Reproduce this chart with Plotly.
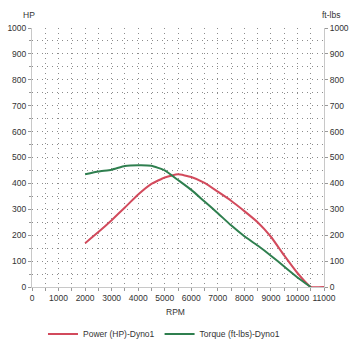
import plotly.graph_objects as go

rpm_power = [2000, 2500, 3000, 3500, 4000, 4500, 5000, 5500, 6000, 6500, 7000,
             7500, 8000, 8500, 9000, 9500, 10000, 10500, 11000]
power_hp = [169, 212, 258, 307, 357, 398, 423, 435, 425, 402, 368,
            333, 293, 250, 194, 122, 54, 0, 0]

rpm_torque = [2000, 2500, 3000, 3500, 4000, 4500, 5000, 5500, 6000, 6500, 7000,
              7500, 8000, 8500, 9000, 9500, 10000, 10500]
torque_ftlbs = [435, 446, 453, 467, 470, 468, 450, 413, 375, 330, 285,
                238, 196, 160, 121, 79, 37, 0]

x_ticks = list(range(0, 11001, 1000))
y_ticks = list(range(0, 1001, 100))

FONT = "Liberation Sans, Arial, sans-serif"
GRID = "#8c8c8c"

fig = go.Figure()
fig.add_trace(go.Scatter(x=rpm_power, y=power_hp, mode="lines",
                         name="Power (HP)-Dyno1",
                         line=dict(color="#d24a5c", width=2, shape="spline", smoothing=0.4)))
fig.add_trace(go.Scatter(x=rpm_torque, y=torque_ftlbs, mode="lines",
                         name="Torque (ft-lbs)-Dyno1", yaxis="y2",
                         line=dict(color="#2f7f4f", width=2, shape="spline", smoothing=0.4)))

axis_common = dict(
    showline=True, linecolor="#c8c8c8", linewidth=1,
    ticks="outside", ticklen=3, tickcolor="#999",
    tickfont=dict(family=FONT, size=8.5, color="#333"),
    showgrid=True, gridcolor=GRID, griddash="1px,4px", gridwidth=1,
    zeroline=False, automargin=False,
)

fig.update_layout(
    width=354, height=349,
    margin=dict(l=32, r=30, t=28, b=62),
    paper_bgcolor="white", plot_bgcolor="white",
    font=dict(family=FONT, size=8.5, color="#333"),
    xaxis=dict(range=[0, 11000], tickvals=x_ticks, ticktext=[str(v) for v in x_ticks],
               minor=dict(dtick=500, ticks="outside", ticklen=3, tickcolor="#999",
                          showgrid=True, gridcolor=GRID, griddash="1px,4px"),
               **axis_common),
    yaxis=dict(range=[0, 1000], tickvals=y_ticks, ticktext=[str(v) for v in y_ticks],
               minor=dict(dtick=50, ticks="outside", ticklen=2, tickcolor="#999",
                          showgrid=True, gridcolor=GRID, griddash="1px,4px"),
               **axis_common),
    yaxis2=dict(range=[0, 1000], tickvals=y_ticks, ticktext=[str(v) for v in y_ticks],
                overlaying="y", side="right", showline=True, linecolor="#c8c8c8",
                ticks="outside", ticklen=3, tickcolor="#999",
                tickfont=dict(family=FONT, size=8.5, color="#333"),
                showgrid=False, zeroline=False, automargin=False),
    showlegend=True,
    legend=dict(orientation="h", x=0.452, xanchor="center",
                yref="container", y=1 - 334 / 349, yanchor="middle",
                font=dict(family=FONT, size=8.5, color="#333"),
                itemwidth=30, tracegroupgap=0, bgcolor="rgba(0,0,0,0)"),
    annotations=[
        dict(text="HP", xref="paper", yref="paper", x=-0.01, y=1.05, xanchor="center",
             yanchor="middle", showarrow=False, font=dict(family=FONT, size=8.5, color="#333")),
        dict(text="ft-lbs", xref="paper", yref="paper", x=1.025, y=1.05, xanchor="center",
             yanchor="middle", showarrow=False, font=dict(family=FONT, size=8.5, color="#333")),
        dict(text="RPM", xref="paper", yref="paper", x=0.49, y=-0.097, xanchor="center",
             yanchor="middle", showarrow=False, font=dict(family=FONT, size=8.5, color="#333")),
    ],
)

fig.write_html("out.html")
